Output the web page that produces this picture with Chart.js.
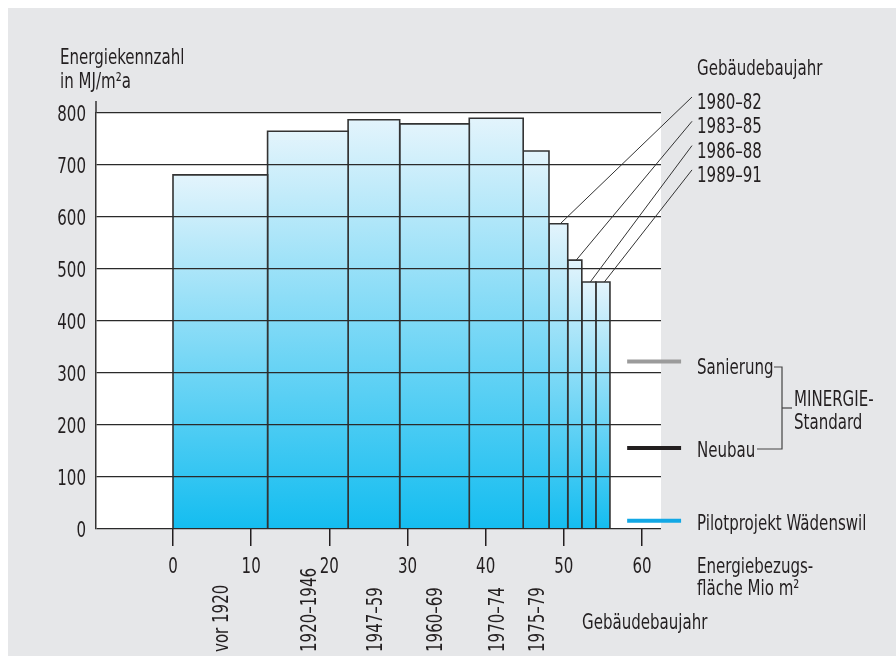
<!DOCTYPE html>
<html>
<head>
<meta charset="utf-8">
<title>Energiekennzahl nach Gebäudebaujahr</title>
<script src="https://cdn.jsdelivr.net/npm/chart.js@4.4.1/dist/chart.umd.min.js"></script>
<style>
  html, body { margin: 0; padding: 0; background: #fff; }
  canvas { display: block; }
</style>
</head>
<body>
<canvas id="chart" width="896" height="657"></canvas>
<script>
// Energiebezugsfläche (Mio m2) kumuliert: Grenzen der Baujahr-Klassen
const areaEdges = [0, 12.1, 22.4, 29.0, 37.9, 44.8, 48.1, 50.5, 52.3, 54.1, 55.9];
// Energiekennzahl in MJ/m2a je Klasse
const energyValues = [681, 765, 787, 779, 790, 727, 587, 517, 475, 475];
const buildPeriods = ["vor 1920", "1920–1946", "1947–59", "1960–69", "1970–74", "1975–79",
    "1980–82", "1983–85", "1986–88", "1989–91"];
const yTicks = [0, 100, 200, 300, 400, 500, 600, 700, 800];
const xTicks = [0, 10, 20, 30, 40, 50, 60];
// MINERGIE-Standard und Pilotprojekt
const standardLabels = ["Sanierung", "Neubau", "Pilotprojekt Wädenswil"];
const standardValues = [322, 156, 16];

// no narrow font installed -> squeeze the condensed one a bit
const FONT = '22px "DejaVu Sans Condensed", "DejaVu Sans", sans-serif';
const SX = 0.76;
const TEXT = "#231f20";

const barFill = (i) => (ctx) => {
    const chart = ctx.chart;
    if (!chart.chartArea) return "#8fd6f5";
    const y = chart.scales.y;
    const top = y.getPixelForValue(energyValues[i]);
    const bottom = y.getPixelForValue(0);
    const g = chart.ctx.createLinearGradient(0, top, 0, bottom);
    g.addColorStop(0, "#e3f4fc");
    g.addColorStop(1, "#14bdf0");
    return g;
};

const barSets = energyValues.map((v, i) => ({
    label: buildPeriods[i],
    data: [
        { x: areaEdges[i], y: 0 },
        { x: areaEdges[i], y: v },
        { x: areaEdges[i + 1], y: v },
        { x: areaEdges[i + 1], y: 0 },
    ],
    fill: "origin",
    backgroundColor: barFill(i),
    borderColor: "#333",
    borderWidth: 1.6,
    pointRadius: 0,
    tension: 0,
}));

const standardColors = ["#9b9b9b", "#231f20", "#12a8e5"];
const standardSets = standardValues.map((v, i) => ({
    label: standardLabels[i],
    data: [{ x: 58.1, y: v }, { x: 65, y: v }],
    borderColor: standardColors[i],
    borderWidth: 4,
    pointRadius: 0,
    fill: false,
    clip: false,
}));

const text = (c, s, x, y, align = "left", rot = 0) => {
    c.save();
    c.translate(x, y);
    if (rot) c.rotate(rot);
    c.scale(SX, 1);
    c.textAlign = align;
    c.textBaseline = "alphabetic";
    c.fillText(s, 0, 0);
    c.restore();
};

const line = (c, pts) => {
    c.beginPath();
    c.moveTo(pts[0][0], pts[0][1]);
    for (let k = 1; k < pts.length; k++) c.lineTo(pts[k][0], pts[k][1]);
    c.stroke();
};

const decor = {
    id: "decor",
    beforeDraw(chart) {
        const c = chart.ctx, a = chart.chartArea;
        c.save();
        c.fillStyle = "#fff";
        c.fillRect(0, 0, chart.width, chart.height);
        c.fillStyle = "#e6e7e9";
        c.fillRect(8, 8, chart.width - 8, 648);
        c.fillStyle = "#fff";
        c.fillRect(a.left, a.top, a.right - a.left, a.bottom - a.top);
        c.restore();
    },
    afterDraw(chart) {
        const c = chart.ctx, a = chart.chartArea;
        const xs = chart.scales.x, ys = chart.scales.y;
        c.save();

        // y axis sticks out above 800
        c.strokeStyle = "#333";
        c.lineWidth = 1.5;
        line(c, [[a.left, a.top - 12], [a.left, a.top]]);

        c.fillStyle = TEXT;
        c.font = FONT;

        // tick labels from the scales
        ys.ticks.forEach((t) => text(c, String(t.value), a.left - 10, ys.getPixelForValue(t.value) + 8, "right"));
        xs.ticks.forEach((t) => text(c, String(t.value), xs.getPixelForValue(t.value), 573, "center"));

        text(c, "Energiekennzahl", 60, 64);
        text(c, "in MJ/m²a", 60, 88);
        text(c, "Gebäudebaujahr", 697, 75);

        // late periods: labels on the right with leader lines
        c.strokeStyle = "#333";
        c.lineWidth = 1;
        for (let i = 6; i < buildPeriods.length; i++) {
            const k = i - 6;
            const ly = 109 + k * 24.3;
            text(c, buildPeriods[i], 697, ly);
            const x0 = xs.getPixelForValue(areaEdges[i] + 0.6 * (areaEdges[i + 1] - areaEdges[i]));
            const y0 = ys.getPixelForValue(energyValues[i]);
            line(c, [[x0, y0], [692, ly - 12]]);
        }

        // early periods: rotated labels below the axis
        for (let i = 0; i < 6; i++) {
            const cx = xs.getPixelForValue((areaEdges[i] + areaEdges[i + 1]) / 2);
            text(c, buildPeriods[i], cx + 8, 652, "left", -Math.PI / 2);
        }
        text(c, "Gebäudebaujahr", 582, 629);

        // legend texts
        text(c, standardLabels[0], 697, 374);
        text(c, standardLabels[1], 697, 457);
        text(c, standardLabels[2], 697, 530);
        text(c, "MINERGIE-", 794, 406);
        text(c, "Standard", 794, 429);
        c.strokeStyle = "#444";
        c.lineWidth = 1.2;
        line(c, [[774, 367], [782, 367], [782, 449], [757, 449]]);
        line(c, [[782, 408], [792, 408]]);

        text(c, "Energiebezugs-", 697, 573);
        text(c, "fläche Mio m²", 697, 595);
        c.restore();
    },
};

new Chart(document.getElementById("chart"), {
    type: "line",
    data: { datasets: [...barSets, ...standardSets] },
    options: {
        responsive: false,
        animation: false,
        devicePixelRatio: 1,
        layout: { padding: { top: 113, right: 235, left: 0, bottom: 0 } },
        plugins: { legend: { display: false }, tooltip: { enabled: false }, title: { display: false } },
        scales: {
            x: {
                type: "linear",
                min: -9.85,
                max: 62.43,
                afterBuildTicks: (s) => { s.ticks = xTicks.map((v) => ({ value: v })); },
                afterFit: (s) => { s.height = 128; },
                grid: { drawOnChartArea: false, drawTicks: true, tickLength: 17, color: "#231f20", lineWidth: 1.5 },
                border: { display: false },
                ticks: { display: false },
            },
            y: {
                min: 0,
                max: 800,
                z: 1,
                afterBuildTicks: (s) => { s.ticks = yTicks.map((v) => ({ value: v })); },
                afterFit: (s) => { s.width = 96; },
                // grid on top of the bars, as in the print
                grid: { color: "#2a2a2a", lineWidth: 1.3, drawTicks: false, z: 1 },
                border: { display: true, color: "#333", width: 1.5, z: 1 },
                ticks: { display: false },
            },
        },
    },
    plugins: [decor],
});
</script>
</body>
</html>
